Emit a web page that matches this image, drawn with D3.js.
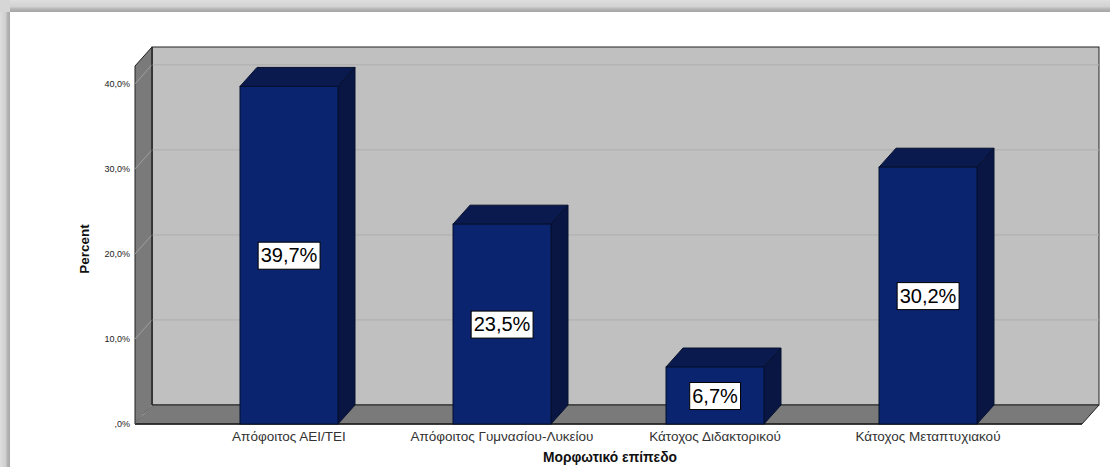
<!DOCTYPE html>
<html><head><meta charset="utf-8">
<script src="https://cdn.jsdelivr.net/npm/d3@7"></script>
<style>html,body{margin:0;padding:0;background:#fff;overflow:hidden}</style>
</head><body>
<script>
const categories = ["Απόφοιτος ΑΕΙ/ΤΕΙ","Απόφοιτος Γυμνασίου-Λυκείου","Κάτοχος Διδακτορικού","Κάτοχος Μεταπτυχιακού"];
const values = [39.7, 23.5, 6.7, 30.2];
const valueLabels = ["39,7%","23,5%","6,7%","30,2%"];
const ticks = [0,10,20,30,40];
const tickLabels = [",0%","10,0%","20,0%","30,0%","40,0%"];
const xTitle = "Μορφωτικό επίπεδο";
const yTitle = "Percent";

const W=1110,H=467;
const svg=d3.select("body").append("svg").attr("width",W).attr("height",H);
const defs=svg.append("defs");
const gT=defs.append("linearGradient").attr("id","gt").attr("x1",0).attr("y1",0).attr("x2",0).attr("y2",1);
gT.append("stop").attr("offset","0").attr("stop-color","#dedede");
gT.append("stop").attr("offset","0.55").attr("stop-color","#d2d2d2");
gT.append("stop").attr("offset","0.75").attr("stop-color","#b4b4b4");
gT.append("stop").attr("offset","1").attr("stop-color","#a6a6a6");
const gL=defs.append("linearGradient").attr("id","gl").attr("x1",0).attr("y1",0).attr("x2",1).attr("y2",0);
gL.append("stop").attr("offset","0").attr("stop-color","#dedede");
gL.append("stop").attr("offset","0.55").attr("stop-color","#d0d0d0");
gL.append("stop").attr("offset","0.75").attr("stop-color","#b4b4b4");
gL.append("stop").attr("offset","1").attr("stop-color","#a8a8a8");
svg.append("rect").attr("x",0).attr("y",0).attr("width",W).attr("height",12).attr("fill","url(#gt)");
svg.append("rect").attr("x",0).attr("y",0).attr("width",10).attr("height",H).attr("fill","url(#gl)");
svg.append("rect").attr("x",0).attr("y",0).attr("width",10).attr("height",12).attr("fill","#d6d6d6");

// geometry
const x0=135, x1=1082, dx=17, dy=19;
const y=d3.scaleLinear().domain([0,42.1]).range([424,66]);
const xb=d3.scaleBand().domain(categories).range([182.5,1034.5]).paddingInner(0.54).paddingOuter(0.27);
const line=d3.line();
const FF="Liberation Sans, Arial, sans-serif";

const g=svg.append("g");
// back wall
g.append("rect").attr("x",x0+dx).attr("y",y(42.1)-dy).attr("width",x1-x0).attr("height",y(0)-y(42.1))
 .attr("fill","#c0c0c0").attr("stroke","#222").attr("stroke-width",1);
// side wall
g.append("path").attr("d",line([[x0,y(0)],[x0,y(42.1)],[x0+dx,y(42.1)-dy],[x0+dx,y(0)-dy]])+"Z")
 .attr("fill","#7a7a7a").attr("stroke","#222").attr("stroke-width",1);
// floor
g.append("path").attr("d",line([[x0,y(0)],[x1,y(0)],[x1+dx,y(0)-dy],[x0+dx,y(0)-dy]])+"Z")
 .attr("fill","#7a7a7a").attr("stroke","#222").attr("stroke-width",1);
// gridlines
ticks.forEach(t=>{
  if(t>0) g.append("line").attr("x1",x0+dx).attr("x2",x1+dx).attr("y1",y(t)-dy).attr("y2",y(t)-dy).attr("stroke","#adadad").attr("stroke-width",1);
  g.append("line").attr("x1",x0).attr("x2",x0+dx).attr("y1",y(t)).attr("y2",y(t)-dy).attr("stroke","#a0a0a0").attr("stroke-width",1);
});
g.append("line").attr("x1",x0+dx).attr("x2",x0+dx).attr("y1",y(42.1)-dy).attr("y2",y(0)-dy).attr("stroke","#222");
g.append("line").attr("x1",x0).attr("x2",x1).attr("y1",y(0)).attr("y2",y(0)).attr("stroke","#222").attr("stroke-width",1.5);

// tick labels
g.selectAll(".tl").data(ticks).join("text").attr("class","tl")
 .attr("x",130).attr("y",d=>y(d)+3).attr("text-anchor","end")
 .attr("font-family",FF).attr("font-size",9).attr("fill","#222")
 .text((d,i)=>tickLabels[i]);

// bars
const bars=g.selectAll(".bar").data(categories).join("g").attr("class","bar");
bars.each(function(c,i){
  const s=d3.select(this), bx=xb(c), bw=xb.bandwidth(), ty=y(values[i]), by=y(0);
  s.append("path").attr("d",line([[bx,ty],[bx+dx,ty-dy],[bx+bw+dx,ty-dy],[bx+bw,ty]])+"Z")
   .attr("fill","#0b1a4e").attr("stroke","#05102e").attr("stroke-width",1);
  s.append("path").attr("d",line([[bx+bw,ty],[bx+bw+dx,ty-dy],[bx+bw+dx,by-dy],[bx+bw,by]])+"Z")
   .attr("fill","#091643").attr("stroke","#05102e").attr("stroke-width",1);
  s.append("rect").attr("x",bx).attr("y",ty).attr("width",bw).attr("height",by-ty)
   .attr("fill","#0a246f").attr("stroke","#05102e").attr("stroke-width",1);
  const cx=bx+bw/2, cy=(ty+by)/2;
  const t=s.append("text").attr("x",cx).attr("y",cy+7).attr("text-anchor","middle")
   .attr("font-family",FF).attr("font-size",20).attr("fill","#000").text(valueLabels[i]);
  const bb=t.node().getBBox();
  s.insert("rect","text").attr("x",bb.x-2.5).attr("y",cy-13).attr("width",bb.width+5).attr("height",27)
   .attr("fill","#fff").attr("stroke","#000").attr("stroke-width",1);
});

// x labels
g.selectAll(".xl").data(categories).join("text").attr("class","xl")
 .attr("x",d=>xb(d)+xb.bandwidth()/2).attr("y",441).attr("text-anchor","middle")
 .attr("font-family",FF).attr("font-size",13.5).attr("fill","#333").text(d=>d);
svg.append("text").attr("x",610).attr("y",462).attr("text-anchor","middle")
 .attr("font-family",FF).attr("font-size",13.8).attr("font-weight","bold").attr("fill","#111").text(xTitle);
svg.append("text").attr("transform","translate(89,249) rotate(-90)").attr("text-anchor","middle")
 .attr("font-family",FF).attr("font-size",13.5).attr("font-weight","bold").attr("fill","#111").text(yTitle);
</script>
</body></html>
